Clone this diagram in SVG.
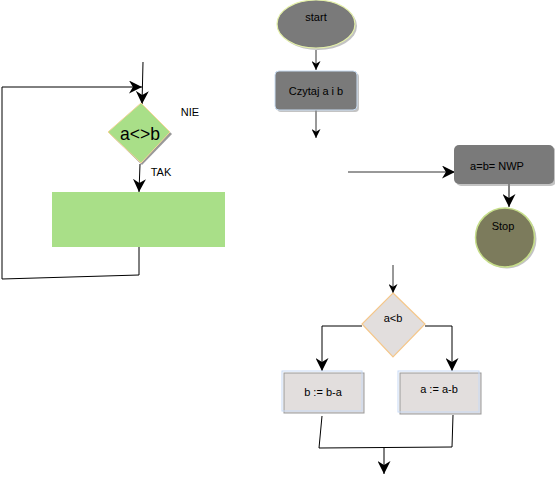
<svg xmlns="http://www.w3.org/2000/svg" width="555" height="478" viewBox="0 0 555 478">
<defs>
<marker id="arr" viewBox="0 0 10 10" refX="10" refY="5" markerWidth="9" markerHeight="9" markerUnits="userSpaceOnUse" orient="auto">
<path d="M0,0 L10,5 L0,10 L3,5 z" fill="#000"/>
</marker>
<marker id="arrL" viewBox="0 0 10 10" refX="10" refY="5" markerWidth="13" markerHeight="13" markerUnits="userSpaceOnUse" orient="auto">
<path d="M0,0 L10,5 L0,10 L3,5 z" fill="#000"/>
</marker>
</defs>
<style>
text{font-family:"Liberation Sans",Arial,sans-serif;font-size:11px;fill:#000;text-anchor:middle}
.ln{fill:none;stroke:#000;stroke-width:1}
.lg{fill:none;stroke:#333;stroke-width:1}
.gray{fill:#7a7a7a}
.lite{fill:#e2dedd;stroke:#999;stroke-width:1}
.blue{fill:none;stroke:#c8daf5;stroke-width:1}
.shadow{fill:#888;opacity:0.5}
</style>
<rect width="555" height="478" fill="#fff"/>
<g id="connectors">
<path class="ln" d="M143,62 L142,104" marker-end="url(#arrL)"/>
<path class="ln" d="M139,247 L139,275 L2,279 L2,87 L142,87" marker-end="url(#arrL)"/>
<path class="ln" d="M140,164 L139,192" marker-end="url(#arrL)"/>
<path class="lg" d="M316,50 L316,70" marker-end="url(#arr)"/>
<path class="lg" d="M316,110 L316,138" marker-end="url(#arr)"/>
<path class="lg" d="M348,172 L455,172" marker-end="url(#arrL)"/>
<path class="ln" d="M509,184 L509,207" marker-end="url(#arrL)"/>
<path class="lg" d="M393,265 L393,293" marker-end="url(#arr)"/>
<path class="ln" d="M362,326 L322,326 L322,371" marker-end="url(#arrL)"/>
<path class="ln" d="M425,326 L452,326 L452,371" marker-end="url(#arrL)"/>
<path class="ln" d="M322,416 L319,448 L452,447 L453,415"/>
<path class="ln" d="M384,447 L384,474" marker-end="url(#arrL)"/>
</g>
<g id="loop-diamond">
<path d="M142,105 L172,134 L142,165 L110,134 z" fill="#999"/>
<path d="M141,103 L170,132 L141,163 L108,132 z" fill="#a9df88" stroke="#f7d59a" stroke-width="1"/>
<text x="140" y="140" style="font-size:19px" textLength="40" lengthAdjust="spacingAndGlyphs">a&lt;&gt;b</text>
</g>
<g id="label-nie"><text x="190" y="116">NIE</text></g>
<g id="label-tak"><text x="161" y="176">TAK</text></g>
<g id="green-box"><rect x="52" y="192" width="173" height="55" fill="#a9df88"/></g>
<g id="start">
<ellipse cx="318" cy="26" rx="39" ry="24" class="shadow"/>
<ellipse cx="316" cy="24" rx="39" ry="24" class="gray" stroke="#e4f0a8" stroke-width="1.2"/>
<text x="316" y="21">start</text>
</g>
<g id="read">
<rect x="277" y="73" width="82" height="39" rx="4" class="shadow"/>
<rect x="275" y="71" width="82" height="39" rx="4" class="gray" stroke="#c8dcf2" stroke-width="1"/>
<text x="316" y="95">Czytaj a i b</text>
</g>
<g id="nwp">
<rect x="456" y="147" width="100" height="39" rx="5" class="shadow"/>
<rect x="454" y="145" width="100" height="39" rx="5" class="gray"/>
<text x="497" y="170">a=b= NWP</text>
</g>
<g id="stop">
<circle cx="507" cy="239" r="29.5" class="shadow"/>
<circle cx="505" cy="237.5" r="29.5" fill="#7c7b5c" stroke="#c6de8a" stroke-width="1.5"/>
<text x="503" y="230">Stop</text>
</g>
<g id="cmp">
<path d="M393,293 L425,324 L393,357 L362,324 z" fill="#e2dedd" stroke="#f5c78a" stroke-width="1.2"/>
<text x="393" y="322">a&lt;b</text>
</g>
<g id="sub-b">
<rect x="284" y="373" width="80" height="40" class="lite"/>
<rect x="282" y="371" width="80" height="40" class="blue"/>
<text x="323" y="396">b := b-a</text>
</g>
<g id="sub-a">
<rect x="400" y="373" width="81" height="41" class="lite"/>
<rect x="398" y="371" width="81" height="41" class="blue"/>
<text x="439" y="393">a := a-b</text>
</g>
</svg>
